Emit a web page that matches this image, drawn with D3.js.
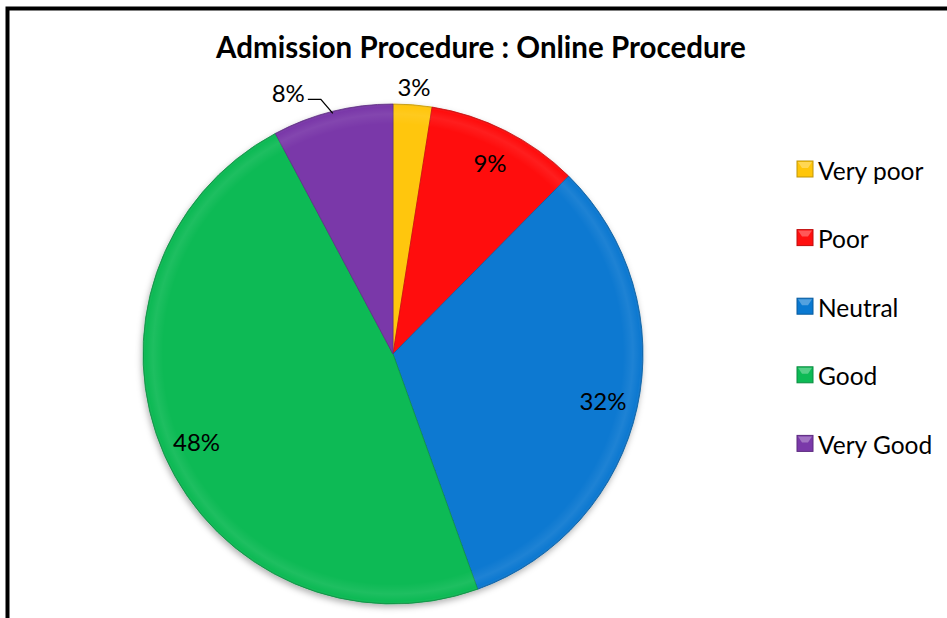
<!DOCTYPE html>
<html>
<head>
<meta charset="utf-8">
<script src="https://cdn.jsdelivr.net/npm/d3@7"></script>
<style>
  html, body { margin: 0; padding: 0; background: #fff; }
  svg { display: block; font-family: Lato, 'Open Sans', sans-serif; }
</style>
</head>
<body>
<svg id="chart" width="947" height="618"></svg>
<script>
const title = 'Admission Procedure : Online Procedure';
const categories = ['Very poor', 'Poor', 'Neutral', 'Good', 'Very Good'];
// shares (percent)
const values = [2.5, 9.9, 32.1, 47.7, 7.8];
// labels as printed on the chart
const labels = ['3%', '9%', '32%', '48%', '8%'];
const colors = ['#FFC60A', '#FF1010', '#0A79D1', '#0DBA55', '#7A39A9'];
// small slices get their label outside the pie
const outside = [true, false, false, false, true];
const leader = [false, false, false, false, true];

const svg = d3.select('#chart');
const width = +svg.attr('width');
const height = +svg.attr('height');
const cx = 393, cy = 354, radius = 250;

// frame (clipped by page on right and bottom)
svg.append('rect')
  .attr('x', 7.5).attr('y', 8.5)
  .attr('width', width + 20).attr('height', height + 20)
  .attr('fill', '#fff')
  .attr('stroke', '#000')
  .attr('stroke-width', 4);

svg.append('text')
  .attr('x', 481).attr('y', 58)
  .attr('text-anchor', 'middle')
  .attr('font-size', 29.5)
  .attr('font-weight', 'bold')
  .attr('fill', '#000')
  .text(title);

const defs = svg.append('defs');
defs.append('filter')
  .attr('id', 'shadow')
  .attr('x', '-10%').attr('y', '-10%')
  .attr('width', '120%').attr('height', '120%')
  .append('feDropShadow')
  .attr('dx', -1).attr('dy', 3)
  .attr('stdDeviation', 3)
  .attr('flood-color', '#000')
  .attr('flood-opacity', 0.3);

const rim = defs.append('radialGradient')
  .attr('id', 'rim')
  .attr('cx', '50%').attr('cy', '50%').attr('r', '50%');
rim.append('stop').attr('offset', '0.92').attr('stop-color', '#fff').attr('stop-opacity', 0);
rim.append('stop').attr('offset', '0.96').attr('stop-color', '#fff').attr('stop-opacity', 0.07);
rim.append('stop').attr('offset', '0.99').attr('stop-color', '#fff').attr('stop-opacity', 0);
rim.append('stop').attr('offset', '1').attr('stop-color', '#000').attr('stop-opacity', 0.12);

const pie = d3.pie().sort(null).value(d => d)(values);
const arc = d3.arc().innerRadius(0).outerRadius(radius);

const g = svg.append('g').attr('transform', `translate(${cx},${cy})`);

g.append('g')
  .attr('filter', 'url(#shadow)')
  .selectAll('path')
  .data(pie)
  .enter()
  .append('path')
  .attr('d', arc)
  .attr('fill', (d, i) => colors[i])
  .attr('stroke', (d, i) => d3.color(colors[i]).darker(0.6))
  .attr('stroke-width', 0.8);

g.append('circle')
  .attr('r', radius)
  .attr('fill', 'url(#rim)')
  .attr('pointer-events', 'none');

// labels
const fontSize = 24;
const inLabel = d3.arc().innerRadius(215).outerRadius(215);
const outLabel = d3.arc().innerRadius(268).outerRadius(268);

pie.forEach((d, i) => {
  if (leader[i]) {
    const mid = (d.startAngle + d.endAngle) / 2;
    const p0 = [Math.sin(mid) * (radius - 2), -Math.cos(mid) * (radius - 2)];
    const p1 = [p0[0] - 12, p0[1] - 14];
    const p2 = [p1[0] - 13, p1[1]];
    g.append('path')
      .attr('d', d3.line()([p0, p1, p2]))
      .attr('fill', 'none')
      .attr('stroke', '#000')
      .attr('stroke-width', 1.3);
    g.append('text')
      .attr('x', p2[0] - 3).attr('y', p2[1] - 7)
      .attr('text-anchor', 'end')
      .attr('dominant-baseline', 'central')
      .attr('font-size', fontSize)
      .attr('fill', '#000')
      .text(labels[i]);
    return;
  }
  const [x, y] = (outside[i] ? outLabel : inLabel).centroid(d);
  g.append('text')
    .attr('x', x).attr('y', y)
    .attr('text-anchor', 'middle')
    .attr('dominant-baseline', 'central')
    .attr('font-size', fontSize)
    .attr('fill', '#000')
    .text(labels[i]);
});

// legend
const legend = svg.append('g')
  .attr('transform', 'translate(797,169)')
  .selectAll('g')
  .data(categories)
  .enter()
  .append('g')
  .attr('transform', (d, i) => `translate(0,${i * 68.6})`);

legend.append('rect')
  .attr('x', 0).attr('y', -8)
  .attr('width', 16).attr('height', 16)
  .attr('fill', (d, i) => colors[i])
  .attr('stroke', (d, i) => d3.color(colors[i]).darker(0.8))
  .attr('stroke-width', 1);

legend.append('path')
  .attr('d', 'M1,-7L15,-7L11,-1L5,-1Z')
  .attr('fill', '#fff')
  .attr('fill-opacity', 0.3);

legend.append('text')
  .attr('x', 21).attr('y', 1)
  .attr('dominant-baseline', 'central')
  .attr('font-size', 24.5)
  .attr('fill', '#000')
  .text(d => d);
</script>
</body>
</html>
